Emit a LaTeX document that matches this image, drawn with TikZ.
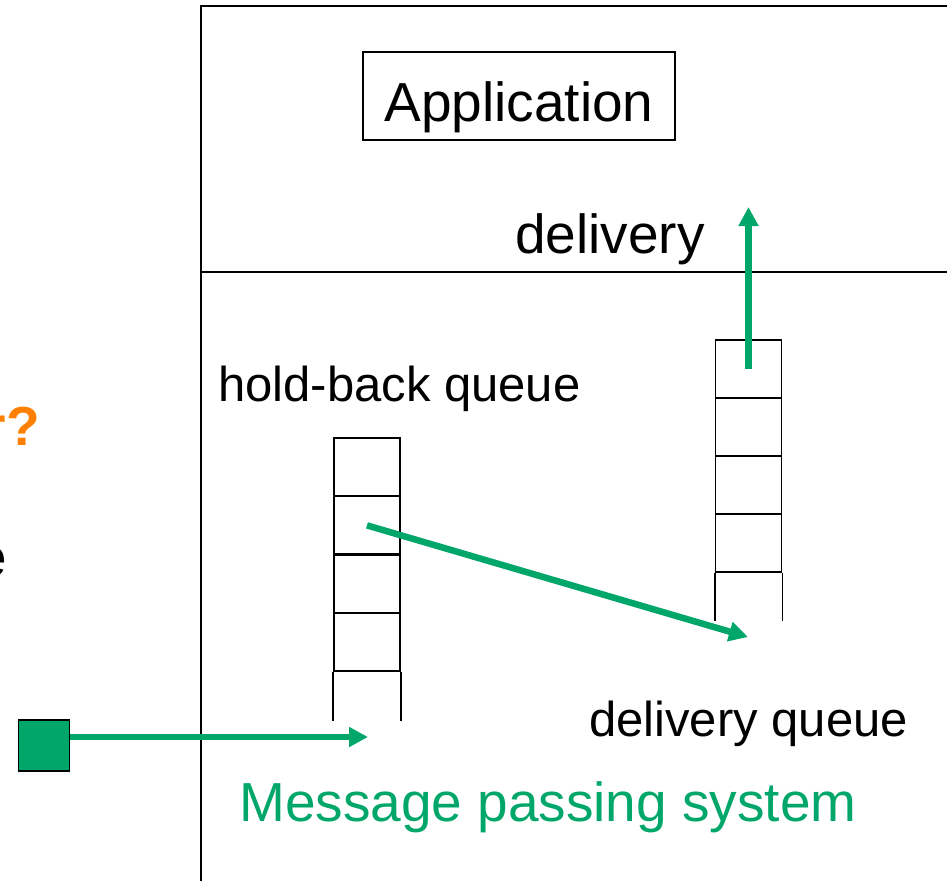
\documentclass[tikz,border=0pt]{standalone}
\usepackage{fontspec}
\setmainfont{Liberation Sans}
\usetikzlibrary{arrows.meta}

\definecolor{msggreen}{RGB}{0,166,106}
\definecolor{askorange}{RGB}{255,128,0}

\tikzset{
  cell/.style={draw, line width=1.8pt, minimum width=66pt, minimum height=58pt, inner sep=0pt},
  flow/.style={draw=msggreen, line width=6.5pt, -{Triangle[length=19pt,width=19pt]}},
  big/.style={font=\fontsize{55}{60}\selectfont, inner sep=0pt},
  mid/.style={font=\fontsize{49}{54}\selectfont, inner sep=0pt}
}

\begin{document}
\begin{tikzpicture}[x=1pt,y=-1pt]
    \useasboundingbox (0,0) rectangle (947,881);
    % process frame
    \draw[line width=2pt] (947,6) -- (201,6) -- (201,881);
    \draw[line width=2pt] (201,272) -- (947,272);
    \node[big, draw, line width=1.6pt, text height=51pt, text depth=0pt,
          minimum width=312pt, minimum height=88pt] (app) at (519,96) {Application};
    \node[big, anchor=base west] (deliv) at (515,253) {delivery};
    % queues
    \foreach \i in {1,...,4} {
      \node[cell] (h\i) at (367,{438+58.25*(\i-0.5)}) {};
      \node[cell] (d\i) at (748.5,{340+58*(\i-0.5)}) {};
    }
    \draw[line width=1.8pt] (h4.south west) -- ++(0,49);
    \draw[line width=1.8pt] (h4.south east) -- ++(0,49);
    \draw[line width=1.8pt] (d4.south west) -- ++(0,48);
    \draw[line width=1.8pt] (d4.south east) -- ++(0,48);
    \node[mid, anchor=base west] (hbq) at (218,401.7) {hold-back queue};
    \node[mid, anchor=base west] (dq) at (589,736.7) {delivery queue};
    \node[big, anchor=base west, text=msggreen] (mps) at (239,821.7) {Message passing system};
    % cut-off text at the left edge
    \node[big, anchor=base east, text=askorange, font=\fontsize{55}{60}\selectfont\bfseries] (ask) at (40,445) {r?};
    \node[big, anchor=base east] (cut) at (7,576) {e};
    % message source
    \node[draw, line width=1.5pt, fill=msggreen, minimum size=51pt, inner sep=0pt] (src) at (44,745.5) {};
    \coordinate (hin) at (368,737);
    \coordinate (din) at (748,637);
    \coordinate (up) at (748.5,207);
    \draw[flow] (src.east |- hin) -- (hin);
    \draw[flow] (h2.center) -- (din);
    \draw[flow] (d1.center) -- (up);
\end{tikzpicture}
\end{document}
